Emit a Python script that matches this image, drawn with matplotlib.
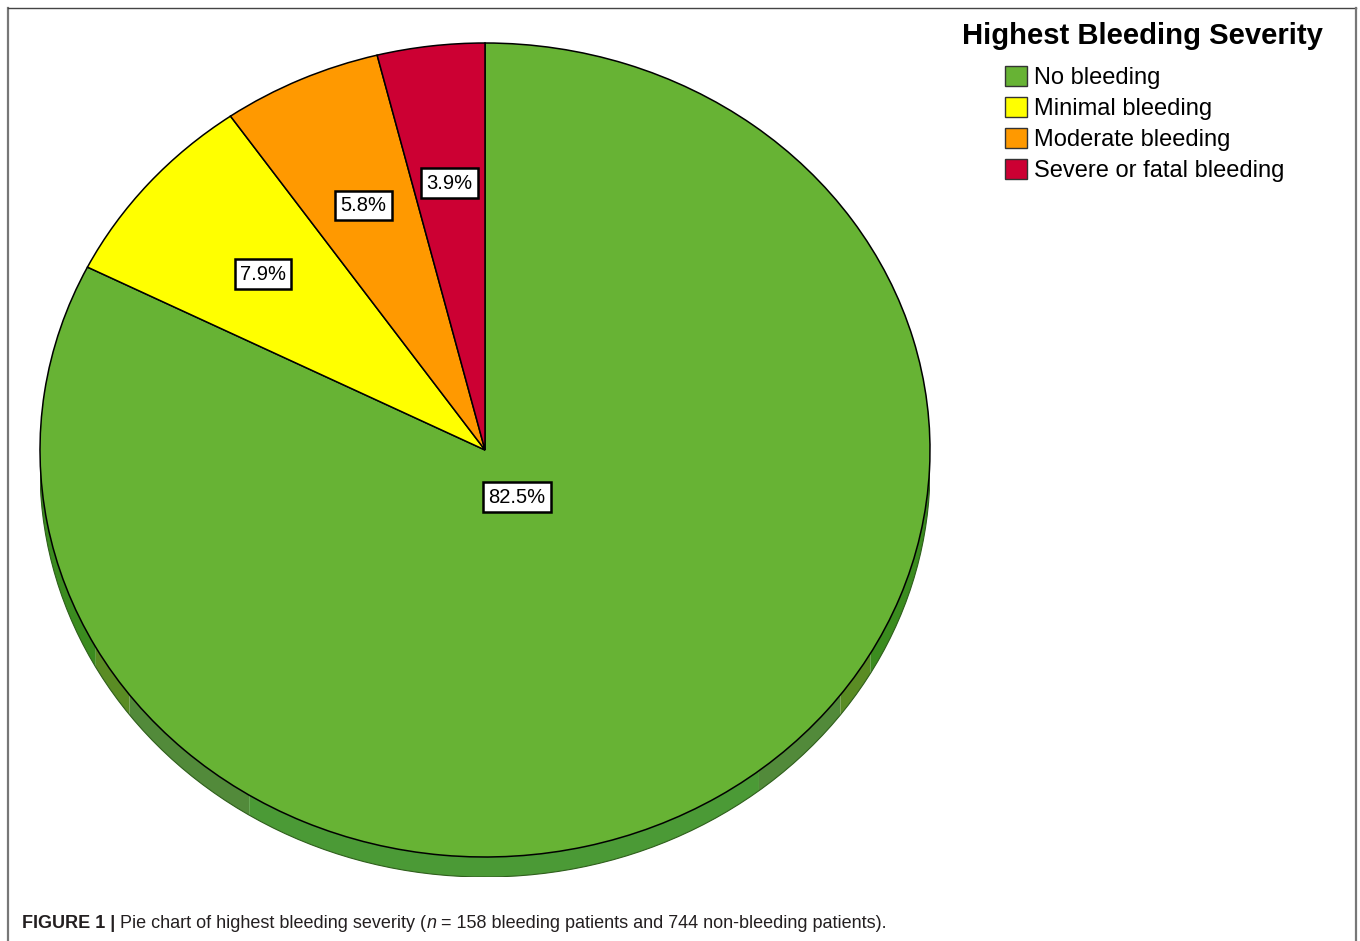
import numpy as np
import matplotlib
matplotlib.use('Agg')
import matplotlib.pyplot as plt
from matplotlib.patches import Patch, Polygon
from matplotlib.lines import Line2D

# data
categories = ['No bleeding', 'Minimal bleeding', 'Moderate bleeding', 'Severe or fatal bleeding']
percents = [82.5, 7.9, 5.8, 3.9]
colors = ['#67b334', '#ffff00', '#ff9900', '#cc0033']
legend_title = 'Highest Bleeding Severity'

plt.rcParams['font.family'] = ['Liberation Sans', 'DejaVu Sans']

W, H = 1360, 941
fig = plt.figure(figsize=(W / 100, H / 100), dpi=100)


def fx(px):
    return px / W


def fy(py):
    return 1 - py / H


# pie axes: top face is an ellipse, rim adds ~20px below
rim = 20 / 407
ax = fig.add_axes([fx(40), fy(877), 890 / W, 834 / H])
wedges, _ = ax.pie(percents, colors=colors, startangle=90, counterclock=False,
                   wedgeprops=dict(edgecolor='black', linewidth=1.1))
ax.set_aspect('auto')
ax.set_xlim(-1, 1)
ax.set_ylim(-1 - rim, 1)
ax.axis('off')

# 3D rim (shaded facets)
rim_shades = [(180, 209, '#3b8c1f'), (209, 217, '#5a8c24'), (217, 238, '#528a3a'),
              (238, 308, '#4b9a36'), (308, 323, '#528a3a'), (323, 330, '#5a8c24'),
              (330, 360, '#3b8c1f')]
for a0, a1, c in rim_shades:
    t = np.radians(np.linspace(a0, a1, 80))
    top = np.column_stack([np.cos(t), np.sin(t)])
    bot = np.column_stack([np.cos(t), np.sin(t) - rim])
    ax.add_patch(Polygon(np.vstack([top, bot[::-1]]), closed=True, fc=c, ec='none', zorder=0.5))
t = np.radians(np.linspace(180, 360, 200))
ax.plot(np.cos(t), np.sin(t) - rim, color='#2f5f1c', lw=0.8, zorder=0.6)

# percentage labels
for i, w in enumerate(wedges):
    mid = np.radians((w.theta1 + w.theta2) / 2)
    r = 0.136 if percents[i] > 50 else 0.66
    ax.text(r * np.cos(mid), r * np.sin(mid), f'{percents[i]:.1f}%', ha='center', va='center',
            fontsize=14.5, zorder=5,
            bbox=dict(boxstyle='square,pad=0.27', fc='white', ec='black', lw=1.8))

# legend
fig.text(fx(962), fy(44), legend_title, fontsize=21.1, fontweight='bold', va='baseline', ha='left')
handles = [Patch(facecolor=c, edgecolor='#333333', linewidth=1) for c in colors]
fig.legend(handles, categories, loc='upper left', bbox_to_anchor=(fx(1005), fy(66)),
           frameon=False, fontsize=17, handlelength=0.92, handleheight=0.92,
           handletextpad=0.3, labelspacing=0.33, borderpad=0, borderaxespad=0)

# frame lines
fig.add_artist(Line2D([fx(7.5), fx(7.5)], [fy(8), 0], color='#777777', lw=1.6))
fig.add_artist(Line2D([fx(7.5), fx(1356)], [fy(8), fy(8)], color='#444444', lw=1.0))
fig.add_artist(Line2D([fx(1356), fx(1356)], [fy(8), 0], color='#777777', lw=1.6))

# caption
pieces = [('FIGURE 1 |', 'bold', 'normal'),
          (' Pie chart of highest bleeding severity (', 'normal', 'normal'),
          ('n', 'normal', 'italic'),
          (' = 158 bleeding patients and 744 non-bleeding patients).', 'normal', 'normal')]
renderer = fig.canvas.get_renderer()
x = fx(22)
for s, wt, st in pieces:
    txt = fig.text(x, fy(928), s, fontsize=13, fontweight=wt, fontstyle=st,
                   color='#231f20', va='baseline', ha='left')
    bb = txt.get_window_extent(renderer)
    x = bb.x1 / W

fig.savefig('out.png', dpi=100)
